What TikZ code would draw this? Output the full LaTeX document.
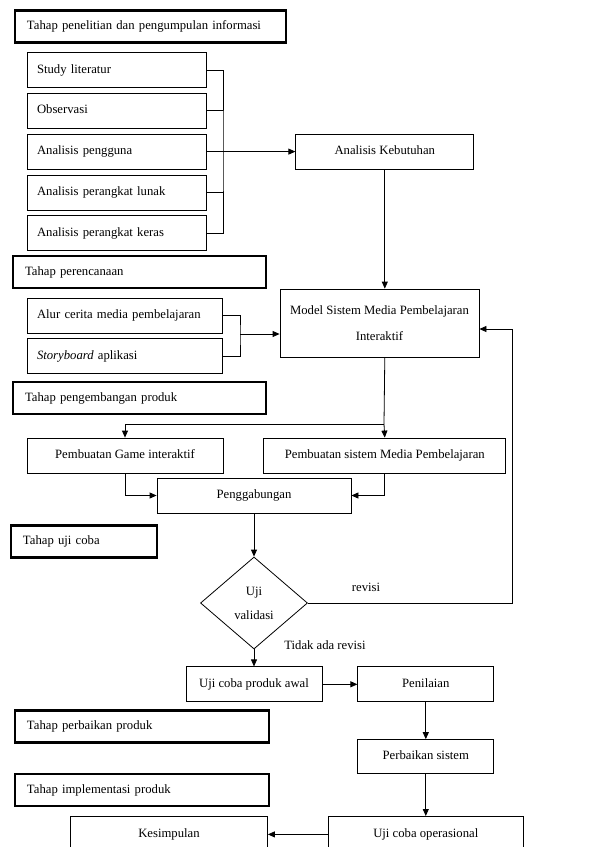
\documentclass[tikz,border=0pt]{standalone}
\usepackage{fontspec}
\setmainfont{Liberation Serif}
\usetikzlibrary{positioning, arrows.meta, shapes.geometric}

\begin{document}
\begin{tikzpicture}[
    x=1pt, y=-1pt,
    every node/.style={font=\fontsize{12.7}{15}\selectfont},
    box/.style={rectangle, draw, line width=0.8pt, align=center},
    cell/.style={box, minimum height=35pt, text height=9pt, text depth=3pt},
    listcell/.style={cell, inner xsep=10pt, align=left},
    phase/.style={rectangle, draw, line width=2.5pt, minimum height=32pt, inner xsep=12pt, align=left, text height=9pt, text depth=3pt},
    decision/.style={diamond, draw, line width=0.8pt, minimum width=107pt, minimum height=92pt, inner sep=0pt, align=center},
    line/.style={line width=0.8pt},
    arrow/.style={-{Triangle[length=7pt,width=6pt]}, line width=0.8pt}
]
\useasboundingbox (0,0) rectangle (615,847);

% tahap penelitian
\node[phase, text width=247pt] (phasepenelitian) at (150.5,26.5) {Tahap penelitian dan pengumpulan informasi};
\node[listcell, text width=159pt] (studi) at (116.5,70) {Study literatur};
\node[listcell, text width=159pt, below=5pt of studi] (observasi) {Observasi};
\node[listcell, text width=159pt, below=5pt of observasi] (pengguna) {Analisis pengguna};
\node[listcell, text width=159pt, below=5pt of pengguna] (lunak) {Analisis perangkat lunak};
\node[listcell, text width=159pt, below=5pt of lunak] (keras) {Analisis perangkat keras};
\node[cell, minimum width=178pt, right=89pt of pengguna] (kebutuhan) {Analisis Kebutuhan};

% tahap perencanaan
\node[phase, text width=229pt] (phaseperencanaan) at (139.5,272) {Tahap perencanaan};
\node[listcell, text width=175pt] (alur) at (124.5,315.5) {Alur cerita media pembelajaran};
\node[listcell, text width=175pt, below=5pt of alur] (storyboard) {\textit{Storyboard} aplikasi};
\node[box, minimum width=199pt, minimum height=68pt] (model) at (379.5,323) {Model Sistem Media Pembelajaran\\[11pt]Interaktif};

% tahap pengembangan
\node[phase, text width=229pt] (phasepengembangan) at (139.5,398) {Tahap pengembangan produk};
\node[cell, minimum width=196pt] (game) at (125,455.5) {Pembuatan Game interaktif};
\node[cell, minimum width=242pt, right=40pt of game] (sistem) {Pembuatan sistem Media Pembelajaran};
\node[cell, minimum width=194pt] (gabung) at (254,495.5) {Penggabungan};

% tahap uji coba
\node[phase, text width=122pt] (phaseujicoba) at (84,541.5) {Tahap uji coba};
\node[decision] (validasi) at (254,603) {Uji\\[9pt]validasi};
\node (revisi) at (366,587) {revisi};
\node (tidakrevisi) at (325,645) {Tidak ada revisi};
\node[cell, minimum width=136pt, below=17pt of validasi] (awal) {Uji coba produk awal};
\node[cell, minimum width=136pt, right=35pt of awal] (penilaian) {Penilaian};

% tahap perbaikan dan implementasi
\node[phase, text width=230pt] (phaseperbaikan) at (142,726.5) {Tahap perbaikan produk};
\node[cell, minimum width=136pt, minimum height=34pt, below=37pt of penilaian] (perbaikan) {Perbaikan sistem};
\node[phase, text width=230pt] (phaseimplementasi) at (142,790) {Tahap implementasi produk};
\node[cell, minimum width=195pt, minimum height=36pt, below=42pt of perbaikan] (operasional) {Uji coba operasional};
\node[cell, minimum width=197pt, minimum height=36pt, left=60pt of operasional] (kesimpulan) {Kesimpulan};

\coordinate (analisisjoin) at (223,150);
\coordinate (rencanajoin) at (240,334);
\coordinate (kembangsplit) at (384,424);
\coordinate (revisijoin) at (512,603);

\draw[line] (studi.east) -| (analisisjoin) |- (keras.east);
\draw[line] (observasi.east) -- (observasi.east -| analisisjoin);
\draw[line] (lunak.east) -- (lunak.east -| analisisjoin);
\draw[arrow] (pengguna.east) -- (kebutuhan.west);
\draw[arrow] (kebutuhan.south) -- (kebutuhan.south |- model.north);
\draw[line] (alur.east) -| (rencanajoin) |- (storyboard.east);
\draw[arrow] (rencanajoin) -- (rencanajoin -| model.west);
\draw[line] (kebutuhan.south |- model.south) -- (kembangsplit);
\draw[arrow] (kembangsplit) -| (game.north);
\draw[arrow] (kembangsplit) -- (sistem.north);
\draw[arrow] (game.south) |- (gabung.west);
\draw[arrow] (sistem.south) |- (gabung.east);
\draw[arrow] (gabung.south) -- (validasi.north);
\draw[arrow] (validasi.east) -- (revisijoin) |- ([yshift=-6pt]model.east);
\draw[arrow] (validasi.south) -- (awal.north);
\draw[arrow] (awal) -- (penilaian);
\draw[arrow] (penilaian) -- (perbaikan);
\draw[arrow] (perbaikan) -- (operasional);
\draw[arrow] (operasional) -- (kesimpulan);

\end{tikzpicture}
\end{document}
